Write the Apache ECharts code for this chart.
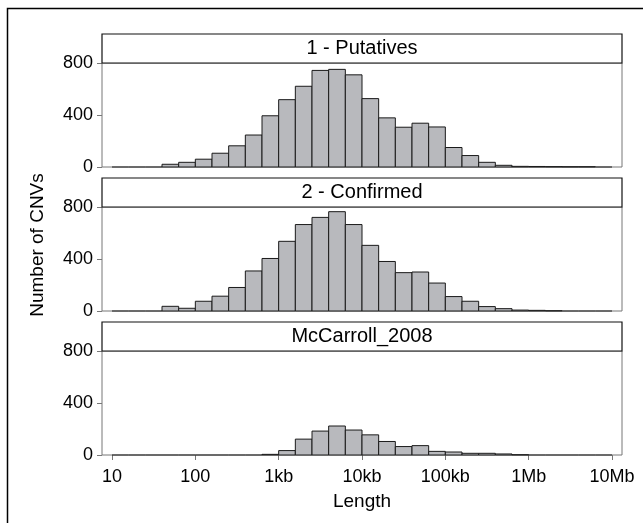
<!DOCTYPE html>
<html>
<head>
<meta charset="utf-8">
<script src="https://cdn.jsdelivr.net/npm/echarts@6/dist/echarts.min.js"></script>
<style>
html,body{margin:0;padding:0;background:#fff;}
#chart{width:643px;height:523px;}
</style>
</head>
<body>
<div id="chart"></div>
<script>
// log10 of bin lower edges (bin width 0.2 decade)
var binLo = [1.0,1.2,1.4,1.6,1.8,2.0,2.2,2.4,2.6,2.8,3.0,3.2,3.4,3.6,3.8,4.0,4.2,4.4,4.6,4.8,5.0,5.2,5.4,5.6,5.8,6.0,6.2,6.4,6.6,6.8];
var binWidth = 0.2;
var panelNames = ['1 - Putatives', '2 - Confirmed', 'McCarroll_2008'];
var putatives = [0,0,0,21,36,60,106,163,246,394,518,621,743,751,709,526,378,306,337,308,150,88,36,13,5,4,3,2,2,0];
var confirmed = [0,0,0,36,21,75,114,181,308,404,536,665,720,764,665,505,381,295,300,215,111,75,34,18,7,5,2,0,0,0];
var mccarroll = [0,0,0,0,0,0,0,0,0,5,34,122,184,223,192,155,104,65,72,28,23,13,13,8,2,0,0,0,0,0];
var tickValues = [1,2,3,4,5,6,7];
var tickLabels = ['10','100','1kb','10kb','100kb','1Mb','10Mb'];
var yTicks = [0,400,800];

var FONT = 'Liberation Sans, Arial, Helvetica, sans-serif';
var panelValues = [putatives, confirmed, mccarroll];
var gridTops = [63, 207, 351];
var gridH = 104;
var stripH = 29;
var gLeft = 102, gRight = 21;
var gWidth = 643 - gLeft - gRight;

var grids = [], xAxes = [], yAxes = [], series = [], graphics = [];

graphics.push({type:'rect', shape:{x:7.5, y:8.5, width:800, height:700}, style:{fill:'none', stroke:'#000', lineWidth:1.5}, z:0});

panelValues.forEach(function (vals, i) {
  var isBottom = i === panelValues.length - 1;
  grids.push({left:gLeft, right:gRight, top:gridTops[i], height:gridH, show:true, borderColor:'#777', borderWidth:1, backgroundColor:'transparent'});
  xAxes.push({
    type:'value', gridIndex:i, min:0.88, max:7.12,
    axisLine:{show:false}, splitLine:{show:false},
    axisTick:{show:isBottom, customValues:tickValues, length:5, lineStyle:{color:'#777'}},
    axisLabel:{show:isBottom, customValues:tickValues, fontSize:18, color:'#000', fontFamily:FONT, margin:13,
      formatter:function (v) { var k = tickValues.indexOf(Math.round(v)); return k >= 0 ? tickLabels[k] : ''; }},
    name: isBottom ? 'Length' : '', nameLocation:'middle', nameGap:37,
    nameTextStyle:{fontSize:19, color:'#000', fontFamily:FONT}
  });
  yAxes.push({
    type:'value', gridIndex:i, min:yTicks[0], max:yTicks[yTicks.length-1], interval:400,
    axisLine:{show:false}, splitLine:{show:false},
    axisTick:{show:true, length:5, lineStyle:{color:'#777'}},
    axisLabel:{fontSize:18, color:'#000', fontFamily:FONT, margin:9}
  });
  var data = vals.map(function (c, k) { return [binLo[k], binLo[k] + binWidth, c]; });
  series.push({
    type:'custom', xAxisIndex:i, yAxisIndex:i, data:data, clip:false,
    encode:{x:[0,1], y:2},
    renderItem:function (params, api) {
      var p0 = api.coord([api.value(0), api.value(2)]);
      var p1 = api.coord([api.value(1), 0]);
      if (api.value(2) === 0) {
        return {type:'line', shape:{x1:p0[0], y1:p1[1], x2:p1[0], y2:p1[1]}, style:{stroke:'#1a1a1a', lineWidth:1}};
      }
      return {type:'rect', shape:{x:p0[0], y:p0[1], width:p1[0]-p0[0], height:p1[1]-p0[1]},
        style:{fill:'#b8b9bd', stroke:'#1a1a1a', lineWidth:1}};
    }
  });
  var sTop = gridTops[i] - stripH;
  graphics.push({type:'rect', shape:{x:gLeft, y:sTop, width:gWidth, height:stripH}, style:{fill:'#fff', stroke:'#111', lineWidth:1.2}, z:10});
  graphics.push({type:'text', x:gLeft + gWidth/2, y:sTop + stripH/2, style:{text:panelNames[i], fontSize:20, fontFamily:FONT, fill:'#000', align:'center', verticalAlign:'middle'}, z:11});
});

graphics.push({type:'text', x:38, y:245, rotation:Math.PI/2, style:{text:'Number of CNVs', fontSize:19, fontFamily:FONT, fill:'#000', align:'center', verticalAlign:'middle'}, z:11});

var chart = echarts.init(document.getElementById('chart'), null, {renderer:'canvas'});
chart.setOption({
  animation:false,
  backgroundColor:'#fff',
  grid:grids, xAxis:xAxes, yAxis:yAxes, series:series, graphic:graphics
});
</script>
</body>
</html>
